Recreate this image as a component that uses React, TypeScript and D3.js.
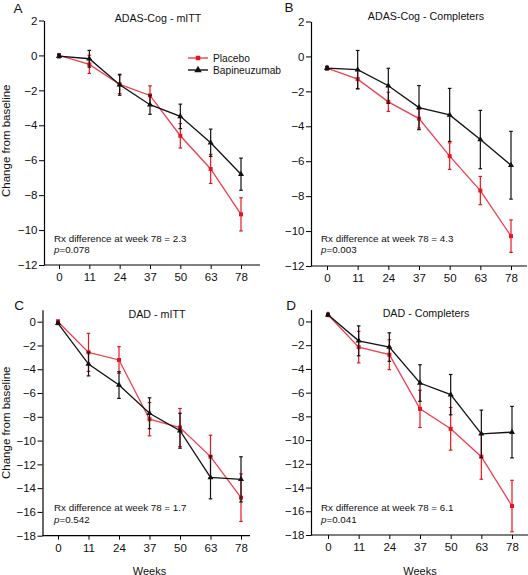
import React, { useEffect, useRef } from "react";
import * as d3 from "d3";

// ---- Data ----
const weeks = ["0", "11", "24", "37", "50", "63", "78"];

const aPlacebo = [0, -0.51, -1.66, -2.29, -4.6, -6.5, -9.1];
const aPlaceboErr = [0.1, 0.52, 0.53, 0.55, 0.7, 0.83, 0.95];
const aBapi = [-0.04, -0.19, -1.68, -2.82, -3.49, -5.0, -6.8];
const aBapiErr = [0.1, 0.48, 0.6, 0.55, 0.7, 0.78, 0.92];

const bPlacebo = [-0.67, -1.3, -2.6, -3.56, -5.71, -7.68, -10.29];
const bPlaceboErr = [0.1, 0.54, 0.55, 0.54, 0.76, 0.81, 0.93];
const bBapi = [-0.67, -0.76, -1.68, -2.93, -3.35, -4.76, -6.23];
const bBapiErr = [0.1, 1.1, 1.0, 1.26, 1.52, 1.67, 1.94];

const cPlacebo = [0, -2.58, -3.22, -8.2, -8.9, -11.35, -14.8];
const cPlaceboErr = [0.15, 1.6, 1.12, 1.4, 1.6, 1.8, 2.0];
const cBapi = [-0.14, -3.56, -5.33, -7.7, -9.17, -13.1, -13.26];
const cBapiErr = [0.1, 1.0, 1.12, 1.3, 1.47, 1.8, 1.9];

const dPlacebo = [0.56, -2.16, -2.8, -7.37, -9.05, -11.4, -15.56];
const dPlaceboErr = [0.15, 1.33, 1.26, 1.57, 1.8, 1.9, 2.17];
const dBapi = [0.56, -1.63, -2.16, -5.19, -6.17, -9.47, -9.33];
const dBapiErr = [0.1, 1.26, 1.2, 1.54, 1.7, 2.0, 2.17];

const adasTicks = [-12, -10, -8, -6, -4, -2, 0, 2];
const dadTicks = [-18, -16, -14, -12, -10, -8, -6, -4, -2, 0];

const titles = ["ADAS-Cog - mITT", "ADAS-Cog - Completers", "DAD - mITT", "DAD - Completers"];
const letters = ["A", "B", "C", "D"];
const diffs = ["2.3", "4.3", "1.7", "6.1"];
const pvals = ["0.078", "0.003", "0.542", "0.041"];
const seriesNames = ["Placebo", "Bapineuzumab"];

// ---- Layout ----
const FONT = "'Liberation Sans', Arial, Helvetica, sans-serif";
const RED_LINE = "#ee3f50";
const RED = "#e5161f";
const BLACK = "#111111";

const panels = [
  { axisX: 44, xr: [59, 241], xEnd: 260, yDom: [-12, 2], yr: [265, 20.5], ticks: adasTicks,
    tx: 158, ty: 22, lx: 18, ly: 13, ax: 54, ay: 241.5, pl: aPlacebo, ple: aPlaceboErr, bp: aBapi, bpe: aBapiErr, ylab: true, xlab: false },
  { axisX: 311, xr: [327, 511], xEnd: 527, yDom: [-12, 2], yr: [266, 21.5], ticks: adasTicks,
    tx: 426, ty: 20, lx: 289, ly: 12, ax: 321, ay: 241.5, pl: bPlacebo, ple: bPlaceboErr, bp: bBapi, bpe: bBapiErr, ylab: false, xlab: false },
  { axisX: 42.5, xr: [58, 241], xEnd: 250, yDom: [-18, 1], yr: [535.7, 309.8], ticks: dadTicks,
    tx: 157, ty: 318, lx: 19, ly: 310, ax: 54, ay: 511, pl: cPlacebo, ple: cPlaceboErr, bp: cBapi, bpe: cBapiErr, ylab: true, xlab: true },
  { axisX: 311, xr: [328, 512], xEnd: 528, yDom: [-18, 1], yr: [535, 309.6], ticks: dadTicks,
    tx: 426, ty: 317, lx: 291, ly: 310, ax: 321, ay: 511, pl: dPlacebo, ple: dPlaceboErr, bp: dBapi, bpe: dBapiErr, ylab: false, xlab: true },
];

export default function App() {
  const ref = useRef<SVGSVGElement | null>(null);

  useEffect(() => {
    const svg = d3.select(ref.current);
    svg.selectAll("*").remove();
    const tri = d3.symbol().type(d3.symbolTriangle).size(16);
    const sq = d3.symbol().type(d3.symbolSquare).size(16);
    const triL = d3.symbol().type(d3.symbolTriangle).size(24);
    const sqL = d3.symbol().type(d3.symbolSquare).size(20);

    panels.forEach((p, i) => {
      const g = svg.append("g");
      const x = d3.scalePoint<string>().domain(weeks).range(p.xr as [number, number]);
      const y = d3.scaleLinear().domain(p.yDom).range(p.yr);

      // y axis
      const ya = g.append("g").attr("transform", `translate(${p.axisX},0)`)
        .call(d3.axisLeft(y).tickValues(p.ticks).tickSize(5).tickSizeOuter(0).tickFormat(d3.format("d")));
      ya.select(".domain").attr("stroke", "#000").attr("stroke-width", 1.2);
      ya.selectAll(".tick line").attr("stroke", "#000").attr("stroke-width", 1);
      ya.selectAll("text").attr("font-family", FONT).attr("font-size", 11.5).attr("fill", "#111").attr("x", -6.5);

      // x axis
      const yBottom = y(p.yDom[0]);
      const xa = g.append("g").attr("transform", `translate(0,${yBottom})`)
        .call(d3.axisBottom(x).tickSize(4).tickSizeOuter(0));
      xa.select(".domain").remove();
      xa.selectAll(".tick line").attr("stroke", "#000");
      xa.selectAll("text").attr("font-family", FONT).attr("font-size", 11.5).attr("fill", "#111").attr("y", 8);
      g.append("line").attr("x1", p.axisX).attr("x2", p.xEnd).attr("y1", yBottom).attr("y2", yBottom)
        .attr("stroke", "#000").attr("stroke-width", 1.2);

      // titles
      g.append("text").attr("x", p.tx).attr("y", p.ty).attr("text-anchor", "middle")
        .attr("font-family", FONT).attr("font-size", 10.7).attr("fill", "#111").text(titles[i]);
      g.append("text").attr("x", p.lx).attr("y", p.ly).attr("text-anchor", "middle")
        .attr("font-family", FONT).attr("font-size", 13.5).attr("fill", "#111").text(letters[i]);

      if (p.ylab) {
        const cy = (p.yr[0] + p.yr[1]) / 2 + (i === 0 ? -2 : 0);
        g.append("text").attr("transform", `translate(10,${cy}) rotate(-90)`).attr("text-anchor", "middle")
          .attr("font-family", FONT).attr("font-size", 11.5).attr("fill", "#111").text("Change from baseline");
      }
      if (p.xlab) {
        g.append("text").attr("x", (p.xr[0] + p.xr[1]) / 2).attr("y", 575)
          .attr("dy", -0.5).attr("text-anchor", "middle")
          .attr("font-family", FONT).attr("font-size", 11).attr("fill", "#111").text("Weeks");
      }

      // annotations
      g.append("text").attr("x", p.ax).attr("y", p.ay).attr("font-family", FONT).attr("font-size", 9.8)
        .attr("fill", "#111").text(`Rx difference at week 78 = ${diffs[i]}`);
      const pt = g.append("text").attr("x", p.ax).attr("y", p.ay + 11.5).attr("font-family", FONT)
        .attr("font-size", 9.8).attr("fill", "#111");
      pt.append("tspan").attr("font-style", "italic").text("p");
      pt.append("tspan").text(`=${pvals[i]}`);

      const series = [
        { vals: p.pl, err: p.ple, line: RED_LINE, mark: RED, shape: sq },
        { vals: p.bp, err: p.bpe, line: BLACK, mark: BLACK, shape: tri },
      ];
      series.forEach((s) => {
        const pts = weeks.map((w, k) => ({ w, v: s.vals[k], e: s.err[k] }));
        const line = d3.line<{ w: string; v: number }>().x((d) => x(d.w) as number).y((d) => y(d.v));
        g.append("path").datum(pts).attr("d", line as any).attr("fill", "none")
          .attr("stroke", s.line).attr("stroke-width", 1.3);
        const eg = g.append("g").attr("stroke", s.mark).attr("stroke-width", 1.2);
        pts.forEach((d) => {
          const cx = x(d.w) as number;
          eg.append("line").attr("x1", cx).attr("x2", cx).attr("y1", y(d.v - d.e)).attr("y2", y(d.v + d.e));
          eg.append("line").attr("x1", cx - 1.8).attr("x2", cx + 1.8).attr("y1", y(d.v - d.e)).attr("y2", y(d.v - d.e));
          eg.append("line").attr("x1", cx - 1.8).attr("x2", cx + 1.8).attr("y1", y(d.v + d.e)).attr("y2", y(d.v + d.e));
        });
        g.append("g").selectAll("path").data(pts).join("path")
          .attr("d", s.shape as any)
          .attr("transform", (d) => `translate(${x(d.w)},${y(d.v)})`)
          .attr("fill", s.mark);
      });
    });

    // legend
    const lg = svg.append("g");
    const legendItems = [
      { name: seriesNames[0], line: RED_LINE, mark: RED, shape: sqL, y: 58 },
      { name: seriesNames[1], line: BLACK, mark: BLACK, shape: triL, y: 70 },
    ];
    legendItems.forEach((it) => {
      lg.append("line").attr("x1", 188).attr("x2", 208).attr("y1", it.y).attr("y2", it.y)
        .attr("stroke", it.line).attr("stroke-width", 1.4);
      lg.append("path").attr("d", it.shape as any).attr("transform", `translate(198,${it.y})`).attr("fill", it.mark);
      lg.append("text").attr("x", 213).attr("y", it.y + 3.6).attr("font-family", FONT).attr("font-size", 10.2)
        .attr("fill", "#111").text(it.name);
    });
  }, []);

  return (
    <svg ref={ref} width={528} height={575}
      style={{ position: "absolute", left: 0, top: 0, background: "#fff" }} />
  );
}
